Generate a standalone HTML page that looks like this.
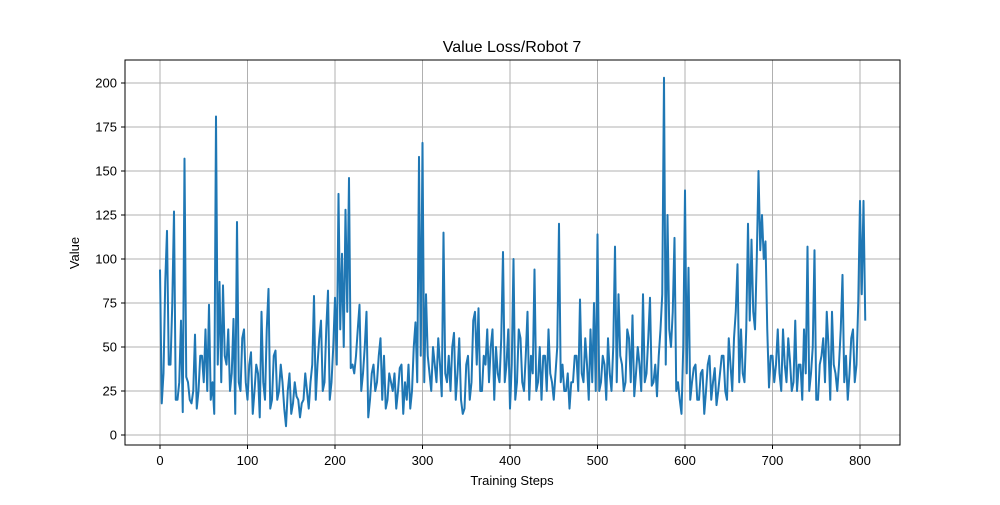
<!DOCTYPE html>
<html><head><meta charset="utf-8"><style>
body{margin:0;background:#fff;}
svg text{font-family:"Liberation Sans","DejaVu Sans",sans-serif;fill:#000;}
</style></head><body>
<svg id="chart" width="1000" height="500">
<rect width="1000" height="500" fill="#fff"/>
<g id="grid"></g><g id="ticks"></g>
<polyline id="line" fill="none" stroke="#1f77b4" stroke-width="2" stroke-linejoin="round"/>
<rect x="125" y="60" width="775" height="385" fill="none" stroke="#000" stroke-width="1"/>
<text x="512" y="52" font-size="16" text-anchor="middle">Value Loss/Robot 7</text>
<text x="512" y="485" font-size="13" text-anchor="middle">Training Steps</text>
<text x="79" y="253" font-size="13" text-anchor="middle" transform="rotate(-90 79 253)">Value</text>
</svg>
<script>
const xTicks=[0,100,200,300,400,500,600,700,800];
const yTicks=[0,25,50,75,100,125,150,175,200];
const stepSize=2;
const values=[94,18,35,87,116,40,40,74,127,20,20,30,65,13,157,33,30,20,18,25,57,15,25,45,45,30,60,25,74,20,30,12,181,40,87,30,85,45,40,60,25,35,66,12,121,30,25,55,60,30,
20,40,47,12,25,40,35,10,70,30,20,60,83,15,20,45,48,20,25,40,30,15,5,25,35,12,18,30,22,20,10,18,20,35,25,15,30,40,79,20,40,55,65,25,30,60,82,20,30,50,
78,40,137,60,103,50,128,70,146,38,40,35,45,60,74,25,35,50,70,10,20,35,40,25,30,45,55,20,45,15,20,35,30,25,35,15,25,38,40,12,30,20,40,15,25,50,64,30,158,45,
166,30,80,45,35,25,50,40,30,55,40,22,115,35,30,45,25,50,58,20,35,55,20,12,15,40,45,20,30,65,70,40,72,25,25,45,40,60,30,50,60,20,50,35,30,55,104,30,40,60,
15,40,100,20,30,60,55,30,25,45,70,20,45,35,94,25,30,50,20,45,45,25,60,35,30,20,35,50,120,30,40,25,25,35,15,30,30,45,45,25,77,35,30,55,40,20,60,30,75,25,
114,25,30,45,40,20,55,35,25,50,107,30,80,45,40,25,30,60,55,30,68,22,35,50,40,25,80,30,35,55,78,28,30,40,22,45,60,80,203,40,125,60,50,70,112,25,30,20,12,50,
139,35,95,20,30,38,40,20,20,35,37,12,25,40,45,20,30,38,17,25,35,45,45,25,20,55,40,25,55,70,97,30,60,35,30,60,120,65,111,70,60,100,150,105,125,100,110,60,27,45,
45,30,40,60,35,25,60,40,30,55,42,25,30,65,25,40,40,20,60,35,107,25,35,50,105,20,20,40,45,55,30,70,50,20,70,40,35,25,40,60,91,30,45,20,35,55,60,30,40,75,
133,80,133,65];
const NS='http://www.w3.org/2000/svg';
const xs=v=>160+v*0.875;
const ys=v=>435-v*1.76;
const grid=document.getElementById('grid'),ticks=document.getElementById('ticks');
function mk(tag,attrs,parent){const e=document.createElementNS(NS,tag);for(const k in attrs)e.setAttribute(k,attrs[k]);parent.appendChild(e);return e;}
xTicks.forEach(t=>{
  const g=mk('line',{x1:xs(t),x2:xs(t),y1:60,y2:445,stroke:'#b0b0b0','stroke-width':1},grid);
  
  
  mk('line',{x1:xs(t),x2:xs(t),y1:445,y2:449,stroke:'#000'},ticks);
  const tx=mk('text',{x:xs(t),y:465,'font-size':13,'text-anchor':'middle'},ticks);
  tx.textContent=t;
  
  
});
yTicks.forEach(t=>{
  const g=mk('line',{x1:125,x2:900,y1:ys(t),y2:ys(t),stroke:'#b0b0b0','stroke-width':1},grid);
  
  
  mk('line',{x1:121,x2:125,y1:ys(t),y2:ys(t),stroke:'#000'},ticks);
  const tx=mk('text',{x:117,y:ys(t)+4.5,'font-size':13,'text-anchor':'end'},ticks);
  tx.textContent=t;
  
  
});
document.getElementById('line').setAttribute('points',values.map((v,i)=>xs(i*stepSize)+','+ys(v)).join(' '));
</script>
</body></html>
